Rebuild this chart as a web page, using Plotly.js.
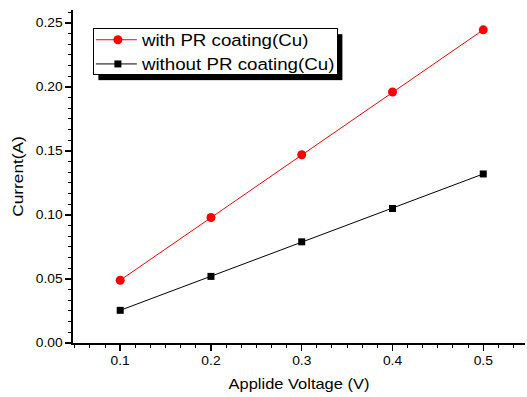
<!DOCTYPE html>
<html><head><meta charset="utf-8">
<script src="https://cdn.plot.ly/plotly-3.0.1.min.js"></script>
<style>html,body{margin:0;padding:0;background:#fff}#chart{width:527px;height:397px}</style>
</head><body><div id="chart"></div>
<script>
const voltage = [0.1, 0.2, 0.3, 0.4, 0.5];
const withPR = [0.049, 0.098, 0.147, 0.196, 0.2445];
const withoutPR = [0.0255, 0.052, 0.079, 0.105, 0.132];
const seriesNames = ["with PR coating(Cu)", "without PR coating(Cu)"];
const xTitle = "Applide Voltage (V)";
const yTitle = "Current(A)";

const FONT = "Arial, 'Liberation Sans', sans-serif";
const STRETCH = 1.15;
const traces = [
  {x: voltage, y: withPR, name: seriesNames[0], mode: 'lines+markers', type: 'scatter',
   line: {color: '#ff0000', width: 1}, marker: {symbol: 'circle', size: 9, color: '#ff0000'}},
  {x: voltage, y: withoutPR, name: seriesNames[1], mode: 'lines+markers', type: 'scatter',
   line: {color: '#000000', width: 1}, marker: {symbol: 'square', size: 7, color: '#000000'}}
];
const xr = [0.048, 0.546], yr = [0, 0.26];
const common = {showgrid: false, zeroline: false, showline: true, linecolor: '#000', linewidth: 2};
const layout = {
  width: 527, height: 397,
  margin: {l: 73, r: 2, t: 10, b: 54},
  paper_bgcolor: '#fff', plot_bgcolor: '#fff',
  font: {family: FONT, color: '#000', size: 12},
  showlegend: true,
  legend: {x: 0.044, y: 0.947, xanchor: 'left', yanchor: 'top', bgcolor: '#fff',
           bordercolor: '#000', borderwidth: 1, font: {family: FONT, size: 16.3, color: '#000'},
           tracegroupgap: 0, itemwidth: 38},
  xaxis: Object.assign({}, common, {range: xr, tick0: 0.1, dtick: 0.1, ticks: 'outside', ticklen: 6, tickwidth: 1.5,
    tickcolor: '#000', tickformat: '.1f',
    minor: {tick0: 0.1, dtick: 0.1/6, ticks: 'outside', ticklen: 3, tickwidth: 1, tickcolor: '#000'},
    title: {text: xTitle, font: {family: FONT, size: 14.3}, standoff: 12}}),
  yaxis: Object.assign({}, common, {range: yr, tick0: 0, dtick: 0.05, ticks: 'outside', ticklen: 6, tickwidth: 1.5,
    tickcolor: '#000', tickformat: '.2f',
    minor: {tick0: 0, dtick: 0.05/6, ticks: 'outside', ticklen: 3, tickwidth: 1, tickcolor: '#000'},
    title: {text: yTitle, font: {family: FONT, size: 15}, standoff: 12}}),
  xaxis2: Object.assign({}, common, {range: xr, overlaying: 'x', side: 'top', anchor: 'y', showticklabels: false,
    tick0: 0.1, dtick: 0.1, ticks: 'inside', ticklen: 5, tickwidth: 1.5, tickcolor: '#000',
    minor: {tick0: 0.1, dtick: 0.1/6, ticks: 'inside', ticklen: 3, tickwidth: 1, tickcolor: '#000'}}),
  yaxis2: Object.assign({}, common, {range: yr, overlaying: 'y', side: 'right', anchor: 'x', showticklabels: false,
    tick0: 0, dtick: 0.05, ticks: 'inside', ticklen: 5, tickwidth: 1.5, tickcolor: '#000',
    minor: {tick0: 0, dtick: 0.05/6, ticks: 'inside', ticklen: 3, tickwidth: 1, tickcolor: '#000'}})
};
const gd = document.getElementById('chart');
Plotly.newPlot(gd, traces, layout, {displayModeBar: false, staticPlot: true}).then(function () {
  // widen text glyphs to match the reference's wide rendering
  gd.querySelectorAll('.xtick text, .ytick text, .g-xtitle text, .g-ytitle text, .legendtext').forEach(function (t) {
    const len = t.getComputedTextLength();
    if (len > 0) { t.setAttribute('textLength', len * STRETCH); t.setAttribute('lengthAdjust', 'spacingAndGlyphs'); }
  });
  const leg = gd.querySelector('.legend');
  if (!leg) return;
  const bg = leg.querySelector('.bg');
  const sb = leg.querySelector('.scrollbox');
  if (sb) sb.removeAttribute('clip-path');
  leg.querySelectorAll('.legendlines path').forEach(function (p) { p.setAttribute('d', 'M2,0h41'); });
  let bgr = bg.getBoundingClientRect();
  // vertical alignment of rows inside the box
  const firstText = leg.querySelector('.legendtext');
  if (firstText && sb) {
    const tr = firstText.getBoundingClientRect();
    const dy = 12 - ((tr.top + tr.bottom) / 2 - bgr.top);
    sb.setAttribute('transform', (sb.getAttribute('transform') || '') + ' translate(0,' + dy.toFixed(1) + ')');
  }
  let maxR = 0;
  leg.querySelectorAll('.legendtext').forEach(function (t) { maxR = Math.max(maxR, t.getBoundingClientRect().right); });
  const w = Math.round(maxR - bgr.left + 3);
  const h = 46;
  bg.setAttribute('width', w);
  bg.setAttribute('height', h);
  const sh = document.createElementNS('http://www.w3.org/2000/svg', 'rect');
  sh.setAttribute('x', (parseFloat(bg.getAttribute('x')) || 0) + 5);
  sh.setAttribute('y', (parseFloat(bg.getAttribute('y')) || 0) + 6);
  sh.setAttribute('width', w); sh.setAttribute('height', h);
  sh.setAttribute('fill', '#000');
  leg.insertBefore(sh, bg);
});
</script></body></html>
